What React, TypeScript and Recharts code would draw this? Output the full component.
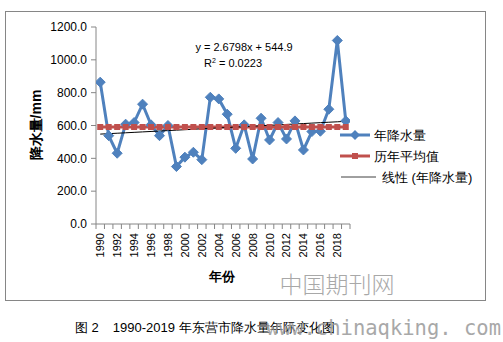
import React from "react";
import { LineChart, Line, XAxis, YAxis } from "recharts";

const years = [1990,1991,1992,1993,1994,1995,1996,1997,1998,1999,2000,2001,2002,2003,2004,2005,2006,2007,2008,2009,2010,2011,2012,2013,2014,2015,2016,2017,2018,2019];
const precipitation = [864,538,431,608,618,730,604,538,600,350,407,437,392,772,762,669,461,604,396,644,512,618,518,628,451,563,565,699,1118,628];
const yTicks = [0,200,400,600,800,1000,1200];
const trendSlope = 2.6798;
const trendIntercept = 544.9;
const equationText = "y = 2.6798x + 544.9";
const r2Value = "0.0223";

const average = precipitation.reduce((a, b) => a + b, 0) / precipitation.length;
const data = years.map((y, i) => ({
  year: y,
  rain: precipitation[i],
  avg: average,
  trend: trendSlope * (i + 1) + trendIntercept,
}));
const xBoundaries = [...years.map((y) => y - 0.5), years[years.length - 1] + 0.5];

const FONT = "'Liberation Sans', Arial, sans-serif";
const BLUE = "#4F81BD";
const RED = "#C0504D";
const AXIS = "#868686";

const Diamond = (props: any) => {
  const { cx, cy } = props;
  if (cx == null || cy == null) return null;
  const s = 5;
  return <path d={`M${cx},${cy - s}L${cx + s},${cy}L${cx},${cy + s}L${cx - s},${cy}Z`} fill={BLUE} stroke={BLUE} />;
};
const Square = (props: any) => {
  const { cx, cy } = props;
  if (cx == null || cy == null) return null;
  return <rect x={cx - 3} y={cy - 3} width={6} height={6} fill={RED} />;
};

const XTick = (props: any) => {
  const { x, y, payload } = props;
  const v = payload.value;
  const label = v + 0.5;
  const step = 253.5 / 30;
  const showLabel = label % 2 === 0 && label <= 2018;
  return (
    <g>
      <line x1={x} y1={y - 8} x2={x} y2={y - 3} stroke={AXIS} />
      {showLabel && (
        <text
          transform={`translate(${x + step / 2 + 4},${y + 1}) rotate(-90)`}
          textAnchor="end"
          fontSize={11}
          fontFamily={FONT}
          fill="#000"
        >
          {label}
        </text>
      )}
    </g>
  );
};

export default function App() {
  return (
    <div style={{ position: "absolute", left: 0, top: 0, width: 503, height: 342, background: "#fff" }}>
      <LineChart
        width={503}
        height={342}
        data={data}
        margin={{ top: 27, right: 153, bottom: 78, left: 46 }}
      >
        <XAxis
          dataKey="year"
          type="number"
          domain={[1989.5, 2019.5]}
          ticks={xBoundaries}
          interval={0}
          height={40}
          stroke={AXIS}
          tickLine={false}
          tick={<XTick />}
          allowDataOverflow
        />
        <YAxis
          domain={[0, 1200]}
          ticks={yTicks}
          width={50}
          stroke={AXIS}
          tickSize={5}
          tickMargin={4}
          tickFormatter={(v: number) => v.toFixed(1)}
          tick={{ fontSize: 12, fontFamily: FONT, fill: "#000" }}
          interval={0}
        />
        <Line dataKey="rain" stroke={BLUE} strokeWidth={3} dot={<Diamond />} isAnimationActive={false} />
        <Line dataKey="avg" stroke={RED} strokeWidth={3} dot={<Square />} isAnimationActive={false} />
        <Line dataKey="trend" stroke="#000" strokeWidth={1} dot={false} isAnimationActive={false} />
      </LineChart>
      <svg
        width={503}
        height={342}
        style={{ position: "absolute", left: 0, top: 0, pointerEvents: "none" }}
      >
        <rect x={5.5} y={11.5} width={480} height={289} fill="none" stroke={AXIS} />
        <text
          transform="translate(41,125) rotate(-90)"
          textAnchor="middle"
          fontSize={14}
          fontWeight="bold"
          fontFamily={FONT}
        >
          降水量/mm
        </text>
        <text x={222} y={281} textAnchor="middle" fontSize={13} fontWeight="bold" fontFamily={FONT}>
          年份
        </text>
        <text x={244} y={51} textAnchor="middle" fontSize={11} fontFamily={FONT}>
          {equationText}
        </text>
        <text x={233} y={67} textAnchor="middle" fontSize={11} fontFamily={FONT}>
          R<tspan dy={-4} fontSize={7}>2</tspan>
          <tspan dy={4}> = {r2Value}</tspan>
        </text>
        {/* legend */}
        <line x1={340} y1={135} x2={370} y2={135} stroke={BLUE} strokeWidth={3} />
        <path d="M355,130L360,135L355,140L350,135Z" fill={BLUE} />
        <text x={374} y={140} fontSize={13} fontFamily={FONT}>年降水量</text>
        <line x1={340} y1={156} x2={370} y2={156} stroke={RED} strokeWidth={3} />
        <rect x={352} y={153} width={6} height={6} fill={RED} />
        <text x={374} y={161} fontSize={13} fontFamily={FONT}>历年平均值</text>
        <line x1={341} y1={177} x2={376} y2={177} stroke="#404040" strokeWidth={1} />
        <text x={382} y={182} fontSize={13} fontFamily={FONT}>线性 (年降水量)</text>
        {/* watermark */}
        <text x={337} y={293} textAnchor="middle" fontSize={23} fontWeight={300} fontFamily="'Noto Sans CJK SC', serif" fill="#a8a8a8">
          中国期刊网
        </text>
        {/* caption */}
        <text x={75} y={332} fontSize={13} fontFamily={FONT} fill="#000">
          图 2<tspan dx={14}>1990-2019 年东营市降水量年际变化图</tspan>
        </text>
        <text x={501} y={335} textAnchor="end" fontSize={20.5} fontFamily="'DejaVu Sans Mono', monospace" fill="#9a9a9a" opacity={0.85}>
          www.chinaqking. com
        </text>
      </svg>
    </div>
  );
}
